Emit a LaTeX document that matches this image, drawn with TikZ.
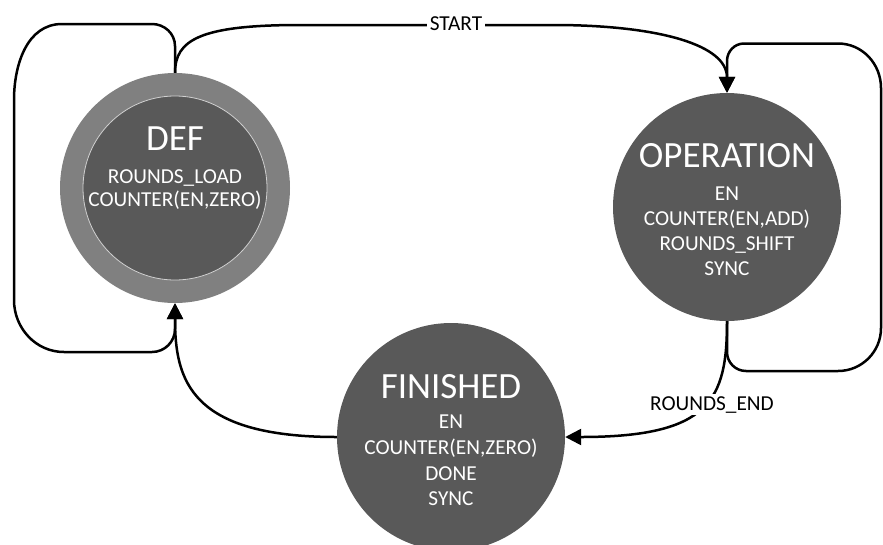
\documentclass[tikz,border=0pt]{standalone}
\usepackage{fontspec}
\setmainfont{Carlito}
\usetikzlibrary{arrows.meta}

\definecolor{statefill}{HTML}{595959}
\definecolor{ringfill}{HTML}{808080}
\definecolor{rimline}{HTML}{D0D0D0}

\tikzset{
  state/.style={circle, inner sep=0pt, fill=statefill},
  title/.style={text=white, font=\fontsize{37}{42}\selectfont, anchor=base, inner sep=0pt},
  action/.style={text=white, font=\fontsize{21.3}{25}\selectfont, anchor=base, inner sep=0pt},
  edge/.style={line width=2.5pt, -{Triangle[length=16pt,width=16pt]}},
  tag/.style={fill=white, font=\fontsize{21.3}{25}\selectfont, anchor=base, inner sep=2.5pt},
}

\begin{document}
\begin{tikzpicture}[x=1pt, y=-1pt]
\useasboundingbox (0,0) rectangle (883,544);

% initial state: ring around a dark core
\node[state, fill=ringfill, minimum size=230pt] (def) at (175,188) {};
\node[state, draw=rimline, line width=0.8pt, minimum size=184pt] (defcore) at (175,188) {};
\node[title]  (deftitle) at (175,150) {DEF};
\node[action] (defa)     at (175,183) {ROUNDS\_LOAD};
\node[action] (defb)     at (175,206) {COUNTER(EN,ZERO)};

% working state
\node[state, minimum size=228pt] (ope) at (727,207) {};
\node[title]  (opetitle) at (727,167.5) {OPERATION};
\node[action] (opea)     at (727,200) {EN};
\node[action] (opeb)     at (727,225) {COUNTER(EN,ADD)};
\node[action] (opec)     at (727,250) {ROUNDS\_SHIFT};
\node[action] (oped)     at (727,275) {SYNC};

% final state
\node[state, minimum size=228pt] (fin) at (451,437) {};
\node[title]  (fintitle) at (451,398) {FINISHED};
\node[action] (fina)     at (451,428) {EN};
\node[action] (finb)     at (451,454) {COUNTER(EN,ZERO)};
\node[action] (finc)     at (451,480) {DONE};
\node[action] (find)     at (451,505) {SYNC};

% DEF stays in DEF
\draw[edge] (def.north) -- (175,46) to[out=90,in=0] (152,24)
  -- (62,24) to[out=180,in=90] (14,100)
  -- (14,300) to[out=-90,in=180] (64,352)
  -- (152,352) to[out=0,in=-90] (175,329) -- (def.south);

% DEF -> OPERATION
\draw[edge] (def.north) .. controls (175,40) and (200,25) .. (300,25)
  -- (560,25) .. controls (660,26) and (727,45) .. (ope.north);
\node[tag] (start) at (456,30) {START};

% OPERATION stays in OPERATION
\draw[edge] (ope.south) -- (727,352) to[out=-90,in=180] (746,371)
  -- (838,371) to[out=0,in=-90] (881,328)
  -- (881,88) to[out=90,in=0] (838,43.5)
  -- (744,43.5) to[out=180,in=90] (727,61) -- (ope.north);

% OPERATION -> FINISHED
\draw[edge] (ope.south) .. controls (727,400) and (710,437) .. (fin.east);
\node[tag] (roundsend) at (712,410) {ROUNDS\_END};

% FINISHED -> DEF
\draw[edge] (fin.west) .. controls (190,437) and (175,380) .. (def.south);
\end{tikzpicture}
\end{document}
